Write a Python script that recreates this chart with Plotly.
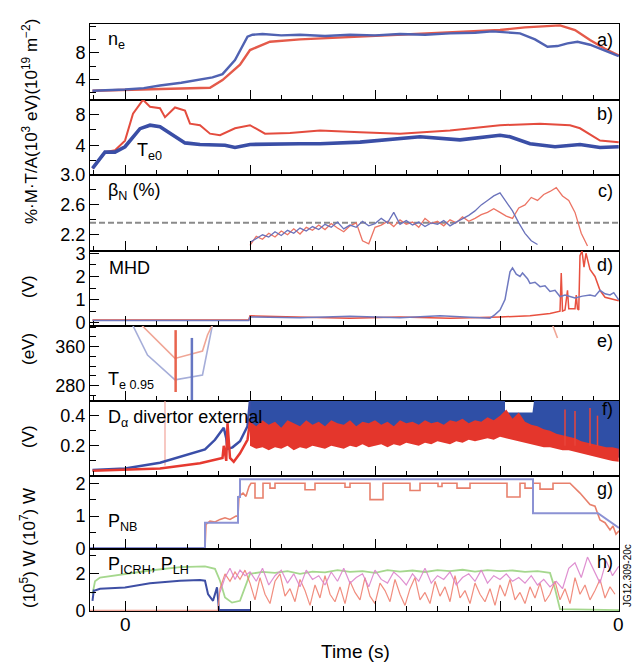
import plotly.graph_objects as go
from plotly.subplots import make_subplots

FONT = "Liberation Sans, Arial, sans-serif"

# ---------------- data (time axis in s, first labelled tick = 0) ----------------
# a) line-integrated density n_e (1e19 m^-2)
NE_T_BLUE = [-0.26, -0.1, 0.0, 0.15, 0.28, 0.45, 0.6, 0.7, 0.78, 0.88, 0.98, 1.02, 1.1, 1.25, 1.4, 1.6, 1.8,
             2.0, 2.2, 2.4, 2.6, 2.8, 2.94, 3.05, 3.16, 3.28, 3.38, 3.46, 3.54, 3.62, 3.72, 3.8, 3.88, 3.95]
NE_BLUE = [2.3, 2.4, 2.5, 2.7, 3.1, 3.5, 4.0, 4.3, 4.8, 6.9, 10.4, 10.7, 10.8, 10.6, 10.7, 10.5, 10.7,
           10.6, 10.8, 10.7, 10.9, 11.0, 11.2, 11.1, 10.9, 10.0, 8.9, 9.0, 9.4, 9.65, 9.2, 8.6, 8.0, 7.5]
NE_T_RED = [-0.26, 0.0, 0.28, 0.6, 0.68, 0.78, 0.92, 1.0, 1.16, 1.4, 1.64, 1.88, 2.2, 2.6, 3.0,
            3.2, 3.36, 3.48, 3.6, 3.72, 3.84, 3.95]
NE_RED = [2.3, 2.4, 2.5, 2.65, 2.75, 3.9, 6.2, 8.4, 9.65, 10.0, 10.2, 10.4, 10.7, 11.0, 11.4,
          11.8, 12.0, 12.1, 11.4, 9.9, 8.6, 7.6]

# b) central electron temperature T_e0 (1e3 eV)
TE0_T_RED = [-0.26, -0.16, -0.08, 0.0, 0.064, 0.12, 0.144, 0.2, 0.28, 0.32, 0.4, 0.48, 0.52, 0.6, 0.68,
             0.76, 0.88, 1.0, 1.12, 1.32, 1.56, 1.88, 2.2, 2.6, 3.0, 3.32, 3.56, 3.64, 3.8, 3.95]
TE0_RED = [1.0, 3.1, 3.35, 4.6, 8.1, 9.4, 9.9, 9.0, 8.8, 7.65, 8.9, 8.5, 6.8, 6.6, 5.5,
           5.3, 6.2, 6.6, 5.5, 5.6, 5.9, 5.7, 5.5, 5.9, 6.6, 6.8, 6.6, 6.2, 4.6, 4.4]
TE0_T_BLUE = [-0.26, -0.16, -0.08, 0.0, 0.12, 0.2, 0.28, 0.4, 0.48, 0.6, 0.8, 0.88, 1.0,
              1.4, 1.56, 1.88, 2.2, 2.36, 2.68, 3.0, 3.08, 3.24, 3.44, 3.64, 3.8, 3.95]
TE0_BLUE = [1.0, 3.1, 3.1, 3.8, 6.15, 6.6, 6.4, 5.1, 4.3, 4.1, 4.0, 3.7, 4.1,
            4.2, 4.2, 4.4, 4.85, 5.1, 4.7, 5.3, 5.1, 4.2, 3.8, 4.1, 3.7, 3.8]

# c) normalised beta (%), sampled every 0.05 s from t = 1.0 s
BETA_T0, BETA_DT = 1.0, 0.05
BETA_RED = [2.06, 2.18, 2.14, 2.22, 2.17, 2.25, 2.2, 2.28, 2.21,
            2.3, 2.26, 2.33, 2.27, 2.35, 2.29, 2.24, 2.32, 2.36, 2.12, 2.08, 2.3,
            2.33, 2.38, 2.31, 2.4, 2.34, 2.37, 2.3, 2.42, 2.35, 2.38, 2.32, 2.4, 2.36, 2.44, 2.38, 2.42, 2.47,
            2.5, 2.55, 2.5, 2.45, 2.42, 2.56, 2.6, 2.7, 2.66, 2.74, 2.78, 2.83, 2.72, 2.66, 2.5, 2.22, 2.05]
BETA_BLUE = [2.1, 2.15, 2.2, 2.17, 2.24, 2.19, 2.26, 2.22, 2.29,
             2.25, 2.31, 2.27, 2.34, 2.3, 2.37, 2.28, 2.33, 2.3, 2.38, 2.32, 2.35,
             2.42, 2.36, 2.5, 2.34, 2.39, 2.33, 2.37, 2.31, 2.36, 2.34, 2.39, 2.32, 2.37, 2.41, 2.46, 2.52, 2.6,
             2.66, 2.72, 2.76, 2.64, 2.52, 2.36, 2.22, 2.12, 2.07]
BETA_N_REF = 2.36

# d) MHD signal (V)
MHD_T_BLUE = [-0.26, 0.99, 1.0, 1.4, 1.8, 2.2, 2.52, 2.92, 2.96, 3.0, 3.04, 3.08, 3.1, 3.13, 3.16,
              3.18, 3.22, 3.24, 3.28, 3.32, 3.36, 3.4, 3.44, 3.48, 3.52, 3.6, 3.66, 3.72, 3.76, 3.8,
              3.84, 3.88, 3.91, 3.95]
MHD_BLUE = [0.1, 0.1, 0.25, 0.22, 0.28, 0.22, 0.3, 0.2, 0.35, 0.55, 1.0, 2.2, 2.37, 2.1, 2.0,
            2.15, 1.9, 1.7, 1.75, 1.56, 1.6, 1.35, 1.4, 1.13, 1.2, 1.07, 1.15, 1.2, 1.15, 1.4,
            1.25, 1.2, 1.3, 0.99]
MHD_T_RED = [-0.26, 0.99, 1.0, 1.4, 1.8, 2.2, 2.6, 3.0, 3.24, 3.4, 3.46, 3.48, 3.49, 3.5, 3.52,
             3.54, 3.55, 3.56, 3.6, 3.61, 3.62, 3.63, 3.64, 3.656, 3.672, 3.688, 3.704, 3.72, 3.76, 3.8,
             3.84, 3.88, 3.95]
MHD_RED = [0.12, 0.12, 0.3, 0.25, 0.2, 0.25, 0.2, 0.25, 0.3, 0.4, 0.5, 0.5, 2.15, 0.5, 0.55,
           1.4, 0.6, 0.6, 0.6, 1.2, 0.6, 0.55, 2.9, 3.1, 2.4, 3.0, 2.6, 2.3, 2.0, 1.4,
           1.1, 1.05, 0.95]

# e) edge electron temperature T_e(0.95) (eV)
TE95_T_BLUE = [0.06, 0.18, 0.4, 0.62, 0.70]
TE95_BLUE = [405, 343, 292, 302, 405]
TE95_T_RED = [0.13, 0.4, 0.62, 0.66, 0.70, None, 3.42, 3.46]
TE95_RED = [405, 336, 351, 384, 405, None, 405, 378]
TE95_ERR_T = [0.405, 0.535]
TE95_ERR_LO = [267, 245]
TE95_ERR_HI = [394, 378]

# f) D-alpha divertor external (V)
DA_T_BLUE_PRE = [-0.26, 0.0, 0.28, 0.52, 0.64, 0.72, 0.76, 0.79, 0.81, 0.82, 0.86, 0.92, 0.98, 1.0]
DA_BLUE_PRE = [0.04, 0.05, 0.088, 0.15, 0.176, 0.24, 0.29, 0.32, 0.25, 0.18, 0.19, 0.23, 0.33, 0.5]
DA_T_RED_PRE = [-0.26, 0.0, 0.28, 0.6, 0.72, 0.78, 0.79, 0.81, 0.82, 0.84, 0.87, 0.92, 0.98, 1.0]
DA_RED_PRE = [0.035, 0.04, 0.05, 0.084, 0.105, 0.12, 0.2, 0.1, 0.35, 0.12, 0.094, 0.15, 0.24, 0.36]
DA_MARK_T = 0.32
DA_MARK = [0.07, 0.52]
DA_T_BLUE_HI = [1.0, 3.04, 3.04, 3.26, 3.28, 3.96]
DA_BLUE_HI = [0.55, 0.55, 0.42, 0.42, 0.55, 0.55]
DA_T_BLUE_LO = [1.0, 3.04, 3.3, 3.6, 3.96]
DA_BLUE_LO = [0.3, 0.3, 0.25, 0.18, 0.12]
DA_T0, DA_DT = 1.0, 0.05
DA_RED_HI = [0.36, 0.33, 0.37, 0.34, 0.36, 0.32, 0.37, 0.35, 0.33, 0.37,
             0.34, 0.36, 0.33, 0.37, 0.35, 0.34, 0.37, 0.33, 0.36, 0.35,
             0.37, 0.34, 0.36, 0.33, 0.37, 0.35, 0.36, 0.34, 0.37, 0.35,
             0.36, 0.34, 0.37, 0.36, 0.38, 0.35, 0.37, 0.36, 0.39, 0.37,
             0.40, 0.44, 0.38, 0.42, 0.36, 0.34, 0.33, 0.31, 0.30, 0.28,
             0.27, 0.26, 0.25, 0.23, 0.22, 0.21, 0.20, 0.19, 0.19, 0.18]
DA_RED_LO = [0.20, 0.18, 0.19, 0.17, 0.19, 0.18, 0.20, 0.17, 0.19, 0.18,
             0.20, 0.19, 0.18, 0.20, 0.19, 0.18, 0.20, 0.19, 0.21, 0.19,
             0.20, 0.21, 0.19, 0.21, 0.20, 0.22, 0.21, 0.20, 0.22, 0.21,
             0.23, 0.22, 0.21, 0.23, 0.22, 0.24, 0.23, 0.24, 0.25, 0.24,
             0.26, 0.25, 0.24, 0.23, 0.22, 0.21, 0.20, 0.19, 0.19, 0.18,
             0.17, 0.17, 0.16, 0.15, 0.14, 0.13, 0.12, 0.11, 0.10, 0.095]
DA_SPIKE_T = [3.52, 3.6, 3.72, 3.78]
DA_SPIKE_TOP = [0.44, 0.43, 0.45, 0.40]

# g) neutral beam power P_NB (1e7 W)
PNB_T_BLUE = [-0.28, 0.64, 0.64, 0.904, 0.904, 0.92, 0.92, 3.264, 3.264, 3.784, 3.952]
PNB_BLUE = [0.03, 0.03, 0.8, 0.8, 1.58, 1.58, 2.12, 2.12, 1.09, 1.09, 0.64]
PNB_T_RED = [-0.28, 0.64, 0.648, 0.68, 0.72, 0.76, 0.8, 0.84, 0.888, 0.904, 0.912, 0.944, 0.968, 0.992, 1.008,
             1.04, 1.04, 1.104, 1.104, 1.16, 1.16, 1.2, 1.2, 1.44, 1.44, 1.52, 1.52, 1.76, 1.76, 1.8, 1.8,
             1.96, 1.96, 2.064, 2.064, 2.28, 2.28, 2.36, 2.36, 2.504, 2.504, 2.536, 2.536, 2.656, 2.656,
             2.76, 2.76, 3.056, 3.056, 3.16, 3.16, 3.2, 3.2, 3.264, 3.264, 3.32, 3.32, 3.424, 3.424,
             3.56, 3.64, 3.72, 3.76, 3.8, 3.84, 3.88, 3.904, 3.928, 3.952]
PNB_RED = [0.0, 0.0, 0.75, 0.85, 0.82, 0.9, 0.95, 0.9, 1.0, 1.0, 1.6, 1.7, 1.6, 1.9, 2.0,
           2.0, 1.55, 1.55, 2.0, 2.0, 1.85, 1.85, 2.0, 2.0, 1.8, 1.8, 2.0, 2.0, 1.88, 1.88, 2.0,
           2.0, 1.5, 1.5, 2.0, 2.0, 1.78, 1.78, 2.0, 2.0, 1.9, 1.9, 2.0, 2.0, 1.85,
           1.85, 2.0, 2.0, 1.58, 1.58, 2.0, 2.0, 1.85, 1.85, 2.0, 2.0, 1.82, 1.82, 2.0,
           2.0, 1.7, 1.35, 1.3, 0.88, 0.8, 0.58, 0.7, 0.45, 0.55]

# h) ICRH and LH powers (1e5 W)
PH_T_BLUE = [-0.26, -0.25, -0.24, -0.2, 0.0, 0.2, 0.44, 0.6, 0.64, 0.664, 0.704, 0.736, 0.752, 1.0]
PH_BLUE = [0.55, 1.1, 1.1, 1.2, 1.27, 1.49, 1.63, 1.67, 1.63, 0.91, 0.55, 1.27, 0.05, 0.05]
PH_T_GREEN = [-0.26, -0.24, -0.2, 0.0, 0.2, 0.44, 0.64, 0.72, 0.76, 0.8, 0.856, 0.92, 0.96, 1.0,
              1.1, 1.2, 1.3, 1.4, 1.5, 1.6, 1.7, 1.8, 1.9, 2.0, 2.1, 2.2, 2.3, 2.4, 2.5, 2.6,
              2.7, 2.8, 2.9, 3.0, 3.1, 3.2, 3.3, 3.4, 3.44, 3.48, 3.952]
PH_GREEN = [0.9, 1.6, 1.8, 2.0, 2.18, 2.36, 2.4, 2.27, 1.63, 0.73, 0.45, 0.55, 1.27, 2.0,
            2.1, 2.05, 2.15, 2.0, 2.12, 2.08, 2.2, 2.1, 2.15, 2.05, 2.2, 2.12, 2.18, 2.1, 2.2, 2.15,
            2.22, 2.12, 2.2, 2.15, 2.18, 2.1, 2.15, 2.05, 1.2, 0.1, 0.05]
PH_T_RED_PRE = [-0.28, 0.744, 0.76, 0.8, 0.84, 0.88, 0.92, 0.96]
PH_RED_PRE = [0.04, 0.04, 1.2, 2.0, 1.6, 2.1, 1.7, 2.2]
PH_RED_T0, PH_RED_DT = 1.0, 0.04
PH_RED = [1.5, 0.6, 1.8, 0.9, 0.4, 1.6, 2.0, 0.8, 1.2, 0.5, 1.7, 1.1, 0.3, 1.4, 0.7, 1.9, 0.9, 0.5,
          1.3, 0.4, 1.6, 1.0, 0.6, 1.8, 0.8, 0.4, 1.5, 1.1, 0.5, 1.7, 0.9, 0.3, 1.2, 1.8, 0.6, 1.0,
          0.4, 1.6, 0.8, 1.3, 0.5, 1.9, 0.7, 1.1, 0.4, 1.5, 0.9, 0.5, 1.2, 0.3, 1.4, 0.8, 1.7, 0.6,
          1.0, 0.4, 1.3, 0.7, 1.5, 0.5, 0.9, 1.6, 0.6, 1.2, 0.4, 1.8, 0.9, 1.4, 0.6, 1.1, 1.7, 0.7,
          1.3, 0.9]
PH_T_MAG_PRE = [0.76, 0.8, 0.84, 0.88, 0.92, 0.96]
PH_MAG_PRE = [1.0, 1.8, 2.3, 1.7, 2.2, 1.9]
PH_MAG_T0, PH_MAG_DT = 1.0, 0.05
PH_MAG = [2.1, 1.6, 2.3, 1.4, 1.9, 2.2, 1.5, 2.0, 1.3, 2.2, 1.7, 1.9, 1.4, 2.1, 1.6, 2.3, 1.5, 1.8,
          2.0, 1.3, 2.2, 1.7, 1.5, 2.1, 1.8, 1.4, 2.0, 1.6, 2.3, 1.5, 1.9, 1.7, 2.1, 1.4, 1.8, 2.0,
          1.6, 2.2, 1.5, 1.9, 1.7, 2.0, 1.6, 1.8, 1.5, 1.9, 1.4, 1.7, 1.3, 1.6, 1.2, 2.3, 2.6, 1.8,
          2.9, 2.2, 1.5, 2.7, 1.9, 2.4]

# ---------------- axes ----------------
T_RANGE = [-0.28, 3.952]
X_MAJOR = [0, 1, 2, 3]
X_MINOR = [0.25, 0.5, 0.75, 1.25, 1.5, 1.75, 2.25, 2.5, 2.75, 3.25, 3.5, 3.75, -0.25]

PANELS = [
    # range, major ticks, labels, minor ticks
    dict(r=[1.0, 12.3], tv=[4, 8], tt=["4", "8"], mv=[2, 6, 10, 12]),
    dict(r=[0.13, 9.94], tv=[4, 8], tt=["4", "8"], mv=[2, 6]),
    dict(r=[1.99, 3.0], tv=[2.2, 2.6, 3.0], tt=["2.2", "2.6", "3.0"], mv=[2.0, 2.4, 2.8]),
    dict(r=[-0.14, 3.12], tv=[0, 1, 2, 3], tt=["0", "1", "2", "3"], mv=[0.5, 1.5, 2.5]),
    dict(r=[248.6, 402.5], tv=[280, 360], tt=["280", "360"], mv=[260, 300, 320, 340, 380, 400]),
    dict(r=[0.0, 0.497], tv=[0.2, 0.4], tt=["0.2", "0.4"], mv=[0.1, 0.3]),
    dict(r=[-0.01, 2.22], tv=[0, 1, 2], tt=["0", "1", "2"], mv=[0.5, 1.5]),
    dict(r=[0.0, 3.32], tv=[0, 2], tt=["0", "2"], mv=[1, 3]),
]
ROW_H = [75.5, 75.5, 75.5, 75.5, 75, 75, 73.3, 61.7]

fig = make_subplots(rows=8, cols=1, shared_xaxes=True, vertical_spacing=0, row_heights=ROW_H)


def grid(t0, dt, n):
    return [round(t0 + dt * i, 4) for i in range(n)]


def line(row, t, v, color, width, dash=None, opacity=1.0):
    fig.add_trace(go.Scatter(x=t, y=v, mode="lines", opacity=opacity,
                             line=dict(color=color, width=width, dash=dash),
                             hoverinfo="skip", showlegend=False), row=row, col=1)


def band(row, t_hi, hi, t_lo, lo, color):
    fig.add_trace(go.Scatter(x=list(t_hi) + list(t_lo)[::-1], y=list(hi) + list(lo)[::-1],
                             mode="lines", fill="toself", fillcolor=color,
                             line=dict(width=0, color=color), hoverinfo="skip",
                             showlegend=False), row=row, col=1)


def vbars(row, ts, los, his, color, width):
    xs, ys = [], []
    for t, lo, hi in zip(ts, los, his):
        xs += [t, t, None]
        ys += [lo, hi, None]
    line(row, xs, ys, color, width)


# a) density
line(1, NE_T_RED, NE_RED, "#e45a4a", 2.4)
line(1, NE_T_BLUE, NE_BLUE, "#5062b2", 2.4)

# b) central T_e
line(2, TE0_T_RED, TE0_RED, "#e44c3e", 2.0)
line(2, TE0_T_BLUE, TE0_BLUE, "#3a4ea6", 3.6)

# c) beta_N
line(3, T_RANGE, [BETA_N_REF, BETA_N_REF], "#8a8a8a", 2, dash="6px,3px")
line(3, grid(BETA_T0, BETA_DT, len(BETA_RED)), BETA_RED, "#ec7464", 1.3)
line(3, grid(BETA_T0, BETA_DT, len(BETA_BLUE)), BETA_BLUE, "#6a72bb", 1.3)

# d) MHD
line(4, MHD_T_RED, MHD_RED, "#e8503f", 1.5)
line(4, MHD_T_BLUE, MHD_BLUE, "#6f79c0", 1.5)

# e) T_e(0.95)
line(5, TE95_T_BLUE, TE95_BLUE, "#a6aed9", 1.6)
line(5, TE95_T_RED, TE95_RED, "#f0a696", 1.6)
vbars(5, TE95_ERR_T[:1], TE95_ERR_LO[:1], TE95_ERR_HI[:1], "#e8644e", 2.5)
vbars(5, TE95_ERR_T[1:], TE95_ERR_LO[1:], TE95_ERR_HI[1:], "#6676c2", 2.5)

# f) D-alpha
vbars(6, [DA_MARK_T], [DA_MARK[0]], [DA_MARK[1]], "#f2a49a", 1.2)
band(6, DA_T_BLUE_HI, DA_BLUE_HI, DA_T_BLUE_LO, DA_BLUE_LO, "#2f4fa6")
t_da = grid(DA_T0, DA_DT, len(DA_RED_HI))
band(6, t_da, DA_RED_HI, t_da, DA_RED_LO, "#e4362c")
vbars(6, DA_SPIKE_T, [0.2] * len(DA_SPIKE_T), DA_SPIKE_TOP, "#e8443a", 1.5)
line(6, DA_T_BLUE_PRE, DA_BLUE_PRE, "#3a4ea8", 2.5)
line(6, DA_T_RED_PRE, DA_RED_PRE, "#e63a30", 2.5)

# g) P_NB
line(7, PNB_T_RED, PNB_RED, "#e8806c", 1.6)
line(7, PNB_T_BLUE, PNB_BLUE, "#8c92d4", 2.0)

# h) P_ICRH, P_LH
line(8, PH_T_GREEN, PH_GREEN, "#a6d88e", 1.8)
line(8, PH_T_BLUE, PH_BLUE, "#3f4fa5", 2.0)
line(8, PH_T_RED_PRE + grid(PH_RED_T0, PH_RED_DT, len(PH_RED)), PH_RED_PRE + PH_RED,
     "#f08272", 1.2, opacity=0.9)
line(8, PH_T_MAG_PRE + grid(PH_MAG_T0, PH_MAG_DT, len(PH_MAG)), PH_MAG_PRE + PH_MAG,
     "#dc84cc", 1.2, opacity=0.9)

# ---------------- axis styling ----------------
for i, p in enumerate(PANELS, start=1):
    fig.update_xaxes(range=T_RANGE, showline=True, mirror=True, linecolor="black", linewidth=1,
                     ticks="inside", tickmode="array", tickvals=X_MAJOR, ticklen=10, tickwidth=1.2,
                     tickcolor="black", showticklabels=False, showgrid=False, zeroline=False,
                     minor=dict(tickmode="array", tickvals=X_MINOR, ticks="inside", ticklen=5,
                                tickwidth=1, tickcolor="black", showgrid=False),
                     row=i, col=1)
    fig.update_yaxes(range=p["r"], showline=True, mirror=True, linecolor="black", linewidth=1,
                     ticks="inside", tickmode="array", tickvals=p["tv"], ticktext=p["tt"],
                     ticklen=9, tickwidth=1.2, tickcolor="black", showgrid=False, zeroline=False,
                     tickfont=dict(family=FONT, size=18, color="black"),
                     minor=dict(tickmode="array", tickvals=p["mv"], ticks="inside", ticklen=6,
                                tickwidth=1, tickcolor="black", showgrid=False),
                     row=i, col=1)

W, H = 635, 662
L, R, T, B = 90, 619, 24, 611


def ann(x, y, text, size=18, xanchor="left", angle=0):
    return dict(x=(x - L) / (R - L), y=(B - y) / (B - T), xref="paper", yref="paper",
                text=text, showarrow=False, xanchor=xanchor, yanchor="middle", textangle=angle,
                font=dict(family=FONT, size=size, color="black"))


annotations = [
    ann(106, 40, "n<sub>e</sub>"),
    ann(135, 152, "T<sub>e0</sub>"),
    ann(106, 191, "β<sub>N</sub> (%)"),
    ann(107, 268, "MHD"),
    ann(106, 380, "T<sub>e 0.95</sub>"),
    ann(106, 418, "D<sub>α</sub> divertor external"),
    ann(106, 522, "P<sub>NB</sub>"),
    ann(106, 565, "P<sub>ICRH</sub>, P<sub>LH</sub>"),
]
for letter, y in zip("abcdefgh", [40, 114, 191, 265, 341, 409, 489, 562]):
    annotations.append(ann(615, y, letter + ")", xanchor="right"))

annotations += [
    ann(30, 122, "%·M·T/A(10<sup>3</sup> eV)(10<sup>19</sup> m<sup>−2</sup>)", size=17,
        xanchor="center", angle=-90),
    ann(28, 287, "(V)", size=17, xanchor="center", angle=-90),
    ann(28, 349, "(eV)", size=17, xanchor="center", angle=-90),
    ann(28, 437, "(V)", size=17, xanchor="center", angle=-90),
    ann(28, 548, "(10<sup>5</sup>) W (10<sup>7</sup>) W", size=17, xanchor="center", angle=-90),
    ann(125, 624, "0", size=19, xanchor="center"),
    ann(618, 624, "0", size=19, xanchor="center"),
    ann(355, 651, "Time (s)", size=19, xanchor="center"),
    ann(627, 576, "JG12.309-20c", size=10, xanchor="center", angle=-90),
]

fig.update_layout(width=W, height=H, autosize=False,
                  margin=dict(l=L, r=W - R, t=T, b=H - B, pad=0),
                  paper_bgcolor="white", plot_bgcolor="white",
                  annotations=annotations, showlegend=False,
                  font=dict(family=FONT, color="black"))

fig.write_html("out.html")
